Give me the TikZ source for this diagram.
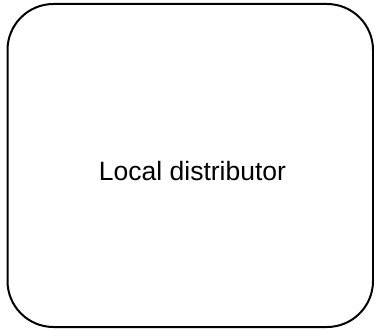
\documentclass[tikz,border=0pt]{standalone}
\usepackage{fontspec}
\setmainfont{Liberation Sans}
\begin{document}
\begin{tikzpicture}[x=1pt,y=1pt,
  boxstyle/.style={draw=black, line width=2pt, rounded corners=46pt},
  labelstyle/.style={font=\fontsize{26.5}{31}\selectfont, anchor=base, inner sep=0pt}]
\useasboundingbox (0,0) rectangle (374,329);
\draw[boxstyle] (7.5,2) rectangle (373,325);
\node[labelstyle] (lbl) at (192.5,148) {Local distributor};
\end{tikzpicture}
\end{document}
